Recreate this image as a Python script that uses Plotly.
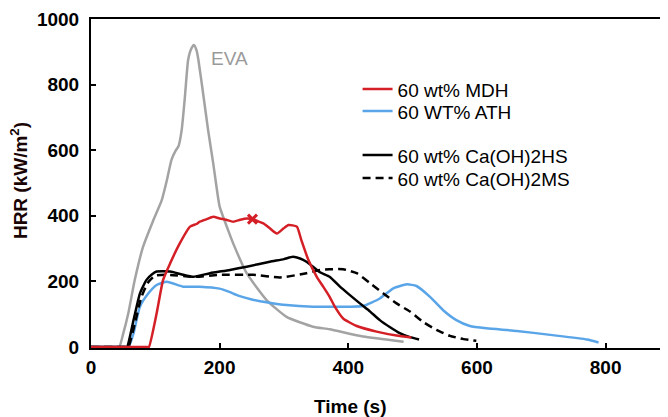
import plotly.graph_objects as go

# ---- data ----
EVA_t = [0, 40, 44, 50, 58, 68, 81, 97, 110, 118, 125, 132, 136, 141, 146, 151, 156, 160, 164, 167, 175, 182, 190, 195, 200, 213, 221, 242, 273, 304, 345, 371, 423, 486]
EVA_v = [0, 0, 0, 40, 103, 204, 306, 387, 448, 509, 570, 600, 612, 662, 763, 875, 910, 921, 905, 875, 763, 662, 560, 490, 428, 357, 316, 225, 143, 92, 62, 54, 32, 16]

MDH_t = [0, 87, 90, 102, 112, 123, 138, 154, 164, 169, 180, 190, 200, 210, 221, 232, 242, 251, 260, 268, 278, 289, 299, 307, 320, 327, 338, 351, 361, 371, 379, 392, 413, 444, 475, 498]
MDH_v = [0, 0, 0, 102, 204, 255, 316, 367, 375, 382, 390, 397, 392, 388, 382, 388, 392, 390, 383, 377, 362, 346, 361, 372, 367, 326, 265, 214, 184, 153, 123, 87, 64, 47, 35, 29]

ATH_t = [0, 55, 58, 66, 76, 89, 102, 118, 143, 169, 200, 215, 230, 250, 275, 304, 345, 371, 402, 423, 449, 470, 491, 506, 527, 547, 568, 589, 615, 662, 714, 771, 789]
ATH_v = [0, 0, 0, 41, 123, 163, 189, 199, 184, 184, 178, 168, 156, 145, 136, 128, 123, 123, 123, 125, 148, 179, 191, 186, 153, 113, 82, 64, 57, 49, 37, 23, 14]

HS_t = [0, 53, 56, 66, 76, 86, 95, 102, 123, 140, 159, 185, 216, 242, 278, 300, 314, 325, 335, 356, 371, 387, 402, 418, 434, 449, 465, 480, 496, 510]
HS_v = [0, 0, 0, 81, 163, 204, 222, 230, 230, 222, 214, 225, 235, 245, 260, 268, 275, 270, 260, 228, 214, 184, 159, 133, 108, 82, 60, 42, 30, 23]

MS_t = [0, 55, 58, 68, 78, 88, 100, 120, 160, 200, 252, 294, 335, 356, 371, 392, 413, 434, 454, 475, 496, 516, 537, 558, 579, 599]
MS_v = [0, 0, 0, 70, 150, 195, 218, 220, 214, 220, 220, 212, 225, 235, 237, 237, 225, 194, 164, 133, 108, 77, 52, 34, 24, 19]

STAR_t = [251]
STAR_v = [390]

x_ticks = [0, 200, 400, 600, 800]
y_ticks = [0, 200, 400, 600, 800, 1000]

RED = "#d41f26"
BLUE = "#5aa5e8"
GRAY = "#a3a3a3"
FONT = "Liberation Sans, Arial, sans-serif"
LW = 2.5
SM = 0.5

fig = go.Figure()
fig.add_trace(go.Scatter(x=EVA_t, y=EVA_v, mode="lines",
                         line=dict(color=GRAY, width=LW, shape="spline", smoothing=SM),
                         showlegend=False, name="EVA"))
fig.add_trace(go.Scatter(x=ATH_t, y=ATH_v, mode="lines",
                         line=dict(color=BLUE, width=LW, shape="spline", smoothing=SM),
                         name="60 WT% ATH", legend="legend2"))
fig.add_trace(go.Scatter(x=MS_t, y=MS_v, mode="lines",
                         line=dict(color="black", width=LW, dash="8px,5px", shape="spline", smoothing=SM),
                         name="60 wt% Ca(OH)2MS", legend="legend4"))
fig.add_trace(go.Scatter(x=HS_t, y=HS_v, mode="lines",
                         line=dict(color="black", width=LW, shape="spline", smoothing=SM),
                         name="60 wt% Ca(OH)2HS", legend="legend3"))
fig.add_trace(go.Scatter(x=MDH_t, y=MDH_v, mode="lines",
                         line=dict(color=RED, width=LW, shape="spline", smoothing=SM),
                         name="60 wt% MDH", legend="legend"))
fig.add_trace(go.Scatter(x=STAR_t, y=STAR_v, mode="markers",
                         marker=dict(symbol="x-thin-open", size=9, color=RED, line=dict(color=RED, width=3)),
                         showlegend=False))

fig.add_annotation(x=215, y=881, text="EVA", showarrow=False,
                   font=dict(family=FONT, size=19, color="#9a9a9a"))
fig.add_annotation(xref="paper", yref="paper", x=0.4506, y=-0.179, text="<b>Time (s)</b>",
                   showarrow=False, font=dict(family=FONT, size=19, color="black"),
                   xanchor="center", yanchor="middle")
fig.add_annotation(xref="paper", yref="paper", x=-0.125, y=0.51, text="<b>HRR (kW/m<sup>2</sup>)</b>",
                   textangle=-90, showarrow=False, font=dict(family=FONT, size=19, color="#1a0505"),
                   xanchor="center", yanchor="middle")

# plot-area height 329 px; legend items placed individually
def leg(y_px_ref):
    # y_px_ref: desired text centre in window pixels
    return dict(x=0.462, y=(348 - y_px_ref) / 329 + 0.060, xanchor="left", yanchor="top",
                font=dict(family=FONT, size=19, color="black"),
                bgcolor="rgba(0,0,0,0)", itemwidth=30)

fig.update_layout(
    width=660, height=409,
    margin=dict(l=83, r=0, t=11, b=69),
    paper_bgcolor="white", plot_bgcolor="white",
    font=dict(family=FONT, color="black"),
    legend=leg(90), legend2=leg(112), legend3=leg(156), legend4=leg(179),
)
fig.update_xaxes(range=[0, 897], tickvals=x_ticks, ticktext=[f"<b>{v}</b>" for v in x_ticks],
                 showgrid=False, zeroline=False, showline=True, linecolor="black", linewidth=2,
                 mirror=True, ticks="inside", ticklen=5, tickwidth=2, tickcolor="black",
                 ticklabelstandoff=1,
                 tickfont=dict(family=FONT, size=19, color="black"), layer="below traces")
fig.update_yaxes(range=[-3, 1000], tickvals=y_ticks, ticktext=[f"<b>{v}</b>" for v in y_ticks],
                 showgrid=False, zeroline=False, showline=True, linecolor="black", linewidth=2,
                 ticks="inside", ticklen=5, tickwidth=2, tickcolor="black",
                 ticklabelstandoff=6,
                 tickfont=dict(family=FONT, size=19, color="black"), layer="below traces")

fig.write_html("out.html")
